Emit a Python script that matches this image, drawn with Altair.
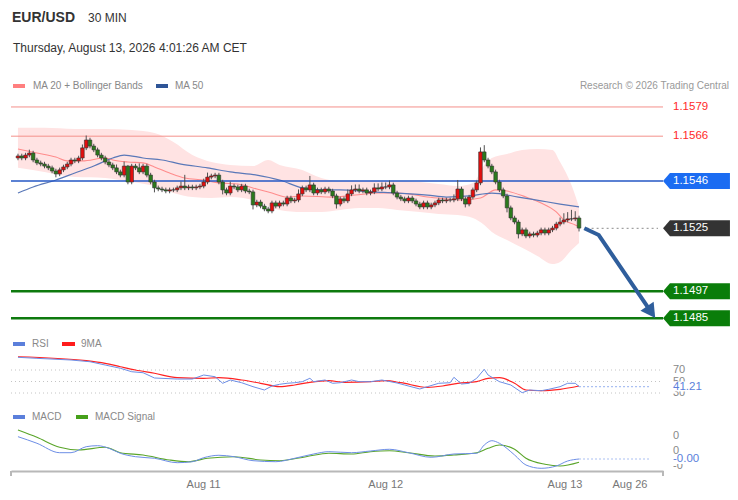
import altair as alt
import pandas as pd

FONT = "Liberation Sans"

# ---------------- data ----------------
# 30-min candles, index 0..148 (close prices)
candle_close = [
    1.15572, 1.15563, 1.15576, 1.15585, 1.15554, 1.15541, 1.15536, 1.15527, 1.15519, 1.15505,
    1.15492, 1.15510, 1.15523, 1.15536, 1.15554, 1.15550, 1.15563, 1.15608, 1.15643, 1.15616,
    1.15599, 1.15576, 1.15563, 1.15545, 1.15532, 1.15519, 1.15501, 1.15487, 1.15527, 1.15456,
    1.15527, 1.15519, 1.15501, 1.15527, 1.15487, 1.15456, 1.15430, 1.15425, 1.15421, 1.15416,
    1.15421, 1.15421, 1.15430, 1.15438, 1.15430, 1.15434, 1.15430, 1.15434, 1.15438, 1.15456,
    1.15478, 1.15483, 1.15487, 1.15456, 1.15421, 1.15407, 1.15438, 1.15434, 1.15421, 1.15438,
    1.15416, 1.15412, 1.15354, 1.15367, 1.15349, 1.15336, 1.15327, 1.15363, 1.15349, 1.15363,
    1.15358, 1.15385, 1.15372, 1.15376, 1.15403, 1.15430, 1.15421, 1.15443, 1.15407, 1.15421,
    1.15412, 1.15425, 1.15416, 1.15394, 1.15358, 1.15381, 1.15372, 1.15403, 1.15421, 1.15425,
    1.15416, 1.15421, 1.15407, 1.15412, 1.15430, 1.15425, 1.15434, 1.15434, 1.15443, 1.15407,
    1.15389, 1.15381, 1.15372, 1.15385, 1.15372, 1.15358, 1.15345, 1.15363, 1.15345, 1.15354,
    1.15363, 1.15376, 1.15372, 1.15376, 1.15376, 1.15381, 1.15425, 1.15381, 1.15358, 1.15389,
    1.15421, 1.15452, 1.15590, 1.15554, 1.15527, 1.15501, 1.15456, 1.15421, 1.15394, 1.15341,
    1.15296, 1.15278, 1.15225, 1.15243, 1.15216, 1.15225, 1.15220, 1.15229, 1.15243, 1.15229,
    1.15243, 1.15251, 1.15269, 1.15278, 1.15287, 1.15292, 1.15292, 1.15296, 1.15251,
]
first_open = 1.15563
# wick lengths beyond the body, in pips
wick_up_pips = [
    1, 1, 1, 1.5, 1, 1, 1, 1, 1, 1,
    1, 1, 1, 1, 1, 1, 1, 1.5, 2, 1,
    1, 1, 1, 1, 1, 1, 1.5, 1, 2, 0.5,
    1, 1, 2, 1, 1, 1, 1, 1, 1, 1,
    1, 1, 1, 2, 5, 1, 1, 1, 1, 1.5,
    2, 1, 1, 1, 1, 1, 2, 1, 1, 1,
    1, 1, 1, 1, 1, 1, 1, 1, 1, 1,
    1, 1, 1, 1, 2, 1, 1, 4, 1, 1,
    1, 1, 1, 1, 1, 1, 1, 2, 2, 2,
    2, 1, 1, 1, 2, 2, 2, 2, 2, 1,
    1, 1, 1, 1, 1, 1, 1, 1, 1, 1,
    1, 1, 1, 1, 1, 2, 4, 1, 1, 1,
    1, 1, 2, 3, 1, 1, 1, 1, 1, 1,
    1, 1, 1, 1, 1, 1, 1, 1, 1, 1,
    1, 1, 1, 2, 3, 3, 4, 3, 1,
]
wick_dn_pips = [
    1, 1, 1, 1, 1, 1, 1, 1, 1, 1,
    1.5, 1, 1, 1, 1, 1, 1, 1, 1, 1,
    1, 1, 1, 1, 1, 1, 1, 1, 1, 1,
    1, 1, 1, 1, 1, 1, 2, 1, 1, 1,
    1, 1, 1, 1, 1, 1, 1, 1, 1, 1,
    1, 1, 1, 1, 2, 1, 1, 1, 1, 1,
    1, 1, 2, 1, 1, 1, 1, 1, 1, 1,
    1, 1, 1, 1, 1, 1, 1, 1, 1, 1,
    1, 1, 1, 1, 2, 1, 1, 1, 1, 1,
    1, 1, 1, 1, 1, 1, 1, 1, 1, 1,
    1, 1, 1, 1, 1, 1, 1, 1, 1, 1,
    1, 1, 1, 1, 1, 1, 1, 1, 1.5, 1,
    1, 1, 1, 1, 1, 1, 1, 1, 1, 2,
    1, 1, 2, 1, 1, 1, 1, 1, 1, 1,
    1, 1, 1, 1, 1, 1, 1, 1, 1.5,
]

ma20_idx = [0, 5, 10, 13, 17, 23, 25, 29, 33, 36, 40, 44, 49, 53, 58, 63, 67, 71, 75, 83,
            89, 95, 100, 103, 108, 113, 117, 122, 126, 129, 134, 138, 142, 144, 147, 148]
ma20_val = [1.15603, 1.15585, 1.15567, 1.15550, 1.15550, 1.15563, 1.15554, 1.15545, 1.15541, 1.15523,
            1.15496, 1.15474, 1.15465, 1.15452, 1.15447, 1.15425, 1.15407, 1.15389, 1.15394, 1.15389,
            1.15398, 1.15407, 1.15407, 1.15403, 1.15389, 1.15381, 1.15376, 1.15385, 1.15421, 1.15416,
            1.15389, 1.15363, 1.15323, 1.15287, 1.15265, 1.15256]

ma50_idx = [0, 4, 10, 15, 20, 25, 28, 33, 38, 43, 50, 56, 63, 69, 75, 80, 85, 93, 100, 108,
            113, 119, 125, 132, 138, 143, 148]
ma50_val = [1.15407, 1.15434, 1.15465, 1.15496, 1.15527, 1.15563, 1.15576, 1.15563, 1.15554, 1.15536,
            1.15519, 1.15501, 1.15487, 1.15465, 1.15430, 1.15421, 1.15421, 1.15412, 1.15407, 1.15398,
            1.15389, 1.15394, 1.15407, 1.15389, 1.15372, 1.15358, 1.15345]

bb_idx = [0, 7, 15, 23, 30, 36, 41, 46, 51, 56, 62, 66, 69, 75, 80, 85, 90, 95, 100, 106,
          111, 116, 120, 123, 125, 129, 133, 137, 141, 143, 146, 148]
bb_upper = [1.15697, 1.15697, 1.15692, 1.15692, 1.15688, 1.15674, 1.15634, 1.15576, 1.15545, 1.15532,
            1.15527, 1.15554, 1.15532, 1.15510, 1.15474, 1.15461, 1.15461, 1.15461, 1.15461, 1.15456,
            1.15447, 1.15438, 1.15452, 1.15532, 1.15563, 1.15581, 1.15599, 1.15603, 1.15599, 1.15545,
            1.15443, 1.15345]
bb_lower = [1.15519, 1.15501, 1.15478, 1.15474, 1.15456, 1.15438, 1.15407, 1.15389, 1.15385, 1.15389,
            1.15376, 1.15349, 1.15332, 1.15323, 1.15323, 1.15332, 1.15340, 1.15340, 1.15332, 1.15323,
            1.15314, 1.15309, 1.15296, 1.15265, 1.15234, 1.15198, 1.15163, 1.15127, 1.15091, 1.15100,
            1.15154, 1.15185]

rsi_idx = [0, 5, 14, 19, 23, 27, 30, 33, 36, 42, 46, 49, 52, 54, 56, 59, 62, 65, 67, 69,
           71, 73, 75, 77, 78, 81, 83, 85, 88, 90, 93, 96, 100, 102, 106, 108, 111, 114, 115, 117,
           119, 121, 123, 124, 127, 130, 133, 135, 138, 140, 143, 145, 147, 148]
rsi_val = [92.1, 90.3, 87.4, 84.4, 78.7, 73.0, 67.0, 65.3, 56.1, 54.3,
           54.3, 61.3, 58.3, 46.9, 52.6, 47.9, 41.0, 35.2, 42.2, 45.1,
           46.9, 47.9, 49.7, 55.6, 49.7, 52.6, 46.9, 47.9, 52.6, 49.7,
           49.7, 52.6, 47.4, 43.9, 37.0, 41.0, 46.9, 47.9, 57.3, 45.6,
           46.9, 55.6, 71.2, 61.3, 49.7, 43.9, 30.5, 35.2, 34.0, 36.4,
           41.0, 46.9, 46.9, 41.21]
rsi9_idx = [0, 18, 23, 27, 31, 36, 42, 49, 53, 59, 64, 69, 73, 77, 82, 86, 93, 97, 101, 108,
            112, 116, 121, 124, 127, 131, 134, 138, 143, 148]
rsi9_val = [93.1, 86.2, 81.6, 75.7, 70.0, 64.3, 56.6, 55.6, 56.6, 52.6,
            46.9, 41.0, 43.9, 48.6, 51.4, 48.6, 49.7, 51.4, 47.9, 39.9,
            42.2, 46.9, 49.7, 55.6, 56.6, 46.9, 35.2, 34.0, 36.4, 42.2]

macd_idx = [0, 5, 11, 14, 18, 21, 24, 27, 31, 36, 42, 46, 49, 53, 57, 62, 68, 73, 78, 82,
            88, 93, 98, 103, 109, 115, 121, 123, 125, 127, 131, 134, 138, 142, 145, 148]
macd_val = [0.000477, 0.000257, -0.000057, -0.000057, 0.000143, 0.000177, 0.000090, -0.000077, -0.000190, -0.000243,
            -0.000390, -0.000357, -0.000223, -0.000143, -0.000190, -0.000323, -0.000357, -0.000243, -0.000100, -0.000023,
            -0.000057, 0.000000, 0.000057, -0.000057, -0.000210, -0.000100, -0.000077, 0.000200, 0.000343, 0.000257,
            -0.000133, -0.000467, -0.000577, -0.000500, -0.000333, -0.000267]
sig_idx = [0, 5, 11, 16, 23, 27, 33, 40, 45, 50, 57, 64, 69, 76, 82, 88, 93, 98, 103, 110,
           115, 121, 124, 127, 131, 134, 139, 143, 148]
sig_val = [0.000700, 0.000457, 0.000123, 0.000033, 0.000123, -0.000057, -0.000133, -0.000300, -0.000357, -0.000243,
           -0.000190, -0.000300, -0.000323, -0.000190, -0.000077, -0.000100, -0.000023, 0.000010, -0.000057, -0.000167,
           -0.000133, -0.000057, 0.000090, 0.000200, 0.000057, -0.000243, -0.000443, -0.000500, -0.000377]

# key levels
res_levels = [1.1579, 1.1566]
pivot_level = 1.1546
last_price = 1.1525
sup_levels = [1.1497, 1.1485]

# forecast arrow (bar index, price)
arrow_idx = [149.4, 153.2, 166.9]
arrow_price = [1.1525, 1.1522, 1.1488]

tick_pos = [48.83, 96.88, 144.16, 161.3]
tick_lbl = ["Aug 11", "Aug 12", "Aug 13", "Aug 26"]

rsi_guides = [70, 50, 30]
rsi_last_label = "41.21"
macd_ticks = [0.0005, 0.0, -0.0005]
macd_tick_lbl = ["0", "0", "-0"]
macd_last_label = "-0.00"

# ---------------- layout / scales ----------------
W, H = 652, 371
LBL_X = 662      # left edge of right-hand value labels
TAG_X = 685.5    # centre of the tag boxes
xs = alt.Scale(domain=[-0.52, 168.83], nice=False, zero=False)
PRICE = alt.Scale(domain=[1.14170, 1.15821], nice=False, zero=False)
RSI = alt.Scale(domain=[-105.65, 539.6], nice=False, zero=False)
MACD = alt.Scale(domain=[-0.000667, 0.0117], nice=False, zero=False)

label_expr = " : ".join(
    [f"datum.value < {(tick_pos[i] + tick_pos[i + 1]) / 2:.2f} ? '{tick_lbl[i]}'" for i in range(len(tick_pos) - 1)]
) + f" : '{tick_lbl[-1]}'"
xaxis = alt.Axis(values=tick_pos, labelExpr=label_expr, title=None, grid=False, ticks=False,
                 domainColor="#b8b8b8", domainWidth=2, labelColor="#777777", labelFontSize=11,
                 labelFont=FONT, labelPadding=7, labelFlush=False, labelOverlap=False)


def X(f):
    return alt.X(f, type="quantitative", scale=xs, axis=xaxis)


def Y(f, sc):
    return alt.Y(f, type="quantitative", scale=sc, axis=None)


# ---------------- tables ----------------
n = len(candle_close)
opens = [first_open] + candle_close[:-1]
cdf = pd.DataFrame({"idx": list(range(n)), "open": opens, "close": candle_close})
cdf["high"] = [max(o, c) + w * 1e-4 for o, c, w in zip(opens, candle_close, wick_up_pips)]
cdf["low"] = [min(o, c) - w * 1e-4 for o, c, w in zip(opens, candle_close, wick_dn_pips)]
cdf["dir"] = ["up" if c > o else "down" for o, c in zip(opens, candle_close)]

ma20 = pd.DataFrame({"idx": ma20_idx, "v": ma20_val})
ma50 = pd.DataFrame({"idx": ma50_idx, "v": ma50_val})
bb = pd.DataFrame({"idx": bb_idx, "up": bb_upper, "lo": bb_lower})
rsi = pd.DataFrame({"idx": rsi_idx, "v": rsi_val})
rsi9 = pd.DataFrame({"idx": rsi9_idx, "v": rsi9_val})
macd = pd.DataFrame({"idx": macd_idx, "v": macd_val})
sig = pd.DataFrame({"idx": sig_idx, "v": sig_val})
arrow = pd.DataFrame({"idx": arrow_idx, "p": arrow_price, "o": list(range(len(arrow_idx)))})
dummy = pd.DataFrame({"k": [0]})

layers = []

# Bollinger band + moving averages
layers.append(alt.Chart(bb).mark_area(color="#ffe3e3", opacity=1, interpolate="monotone")
              .encode(x=X("idx"), y=Y("up", PRICE), y2=alt.Y2("lo")))
layers.append(alt.Chart(ma20).mark_line(color="#ff8c8c", strokeWidth=1.1, interpolate="monotone")
              .encode(x=X("idx"), y=Y("v", PRICE)))
layers.append(alt.Chart(ma50).mark_line(color="#5a78b8", strokeWidth=1.2, interpolate="monotone")
              .encode(x=X("idx"), y=Y("v", PRICE)))


# horizontal levels
def hline(value, color, width):
    return (alt.Chart(pd.DataFrame({"p": [value]}))
            .mark_rule(color=color, strokeWidth=width)
            .encode(x=alt.value(0), x2=alt.value(W), y=Y("p", PRICE)))


for lv in res_levels:
    layers.append(hline(lv, "#f4908a", 1))
layers.append(hline(pivot_level, "#2457c5", 1.5))
for lv in sup_levels:
    layers.append(hline(lv, "#0e7a0e", 2.5))

# candles
layers.append(alt.Chart(cdf).mark_rule(color="#505050", strokeWidth=1)
              .encode(x=X("idx"), y=Y("low", PRICE), y2=alt.Y2("high")))
for d, col in [("up", "#e30e0e"), ("down", "#2b7a1c")]:
    layers.append(alt.Chart(cdf).transform_filter(alt.datum.dir == d)
                  .mark_bar(size=3.6, color=col, stroke="#333333", strokeWidth=0.6)
                  .encode(x=X("idx"), y=Y("open", PRICE), y2=alt.Y2("close")))

# last price dotted guide
layers.append(alt.Chart(pd.DataFrame({"a": [150.0], "b": [168.83], "p": [last_price]}))
              .mark_rule(color="#8a8a8a", strokeWidth=1, strokeDash=[2, 3])
              .encode(x=X("a"), x2=alt.X2("b"), y=Y("p", PRICE)))

# forecast arrow
layers.append(alt.Chart(arrow).mark_line(color="#2f5e9c", strokeWidth=4)
              .encode(x=X("idx"), y=Y("p", PRICE), order="o:Q"))
layers.append(alt.Chart(arrow.iloc[[-1]]).mark_point(
    shape="M -1 -0.8 L 1 -0.8 L 0 1 Z", size=256, filled=True, color="#2f5e9c",
    opacity=1, strokeWidth=0, angle=325.4)
    .encode(x=X("idx"), y=Y("p", PRICE)))

# right side price labels
TAG = "M -2.09 0 L -1.66 -0.5 L 2.09 -0.5 L 2.09 0.5 L -1.66 0.5 Z"


def price_text(value, color):
    return (alt.Chart(pd.DataFrame({"p": [value], "t": [f"{value:.4f}"]}))
            .mark_text(align="left", baseline="middle", fontSize=11.5, font=FONT, color=color)
            .encode(x=alt.value(LBL_X), y=Y("p", PRICE), text="t:N"))


def price_tag(value, fill):
    box = (alt.Chart(pd.DataFrame({"p": [value]}))
           .mark_point(shape=TAG, size=1024, filled=True, color=fill, opacity=1, strokeWidth=0)
           .encode(x=alt.value(TAG_X), y=Y("p", PRICE)))
    return [box, price_text(value, "white")]


for lv in res_levels:
    layers.append(price_text(lv, "#ff2a2a"))
layers += price_tag(pivot_level, "#1b6cf2")
layers += price_tag(last_price, "#333333")
for lv in sup_levels:
    layers += price_tag(lv, "#0a7d0a")

# ---------------- RSI panel ----------------
layers.append(alt.Chart(pd.DataFrame({"v": rsi_guides}))
              .mark_rule(color="#c4c4c4", strokeWidth=1, strokeDash=[1, 3])
              .encode(x=alt.value(0), x2=alt.value(W - 3), y=Y("v", RSI)))
layers.append(alt.Chart(rsi9).mark_line(color="#ff2222", strokeWidth=1.2, interpolate="monotone")
              .encode(x=X("idx"), y=Y("v", RSI)))
layers.append(alt.Chart(rsi).mark_line(color="#6d8ee6", strokeWidth=1)
              .encode(x=X("idx"), y=Y("v", RSI)))
layers.append(alt.Chart(pd.DataFrame({"a": [148.0], "b": [166.75], "v": [float(rsi_last_label)]}))
              .mark_rule(color="#aac0f2", strokeWidth=1.2, strokeDash=[2, 2])
              .encode(x=X("a"), x2=alt.X2("b"), y=Y("v", RSI)))
layers.append(alt.Chart(pd.DataFrame({"v": rsi_guides, "t": [str(g) for g in rsi_guides]}))
              .mark_text(align="left", baseline="middle", fontSize=11, font=FONT, color="#888888")
              .encode(x=alt.value(LBL_X), y=Y("v", RSI), text="t:N"))
COVER = "M -2.25 -0.5 L 2.25 -0.5 L 2.25 0.5 L -2.25 0.5 Z"
layers.append(alt.Chart(pd.DataFrame({"v": [float(rsi_last_label)]}))
              .mark_point(shape=COVER, size=400, filled=True, color="white", opacity=1, strokeWidth=0)
              .encode(x=alt.value(LBL_X + 22), y=Y("v", RSI)))
layers.append(alt.Chart(pd.DataFrame({"v": [float(rsi_last_label)], "t": [rsi_last_label]}))
              .mark_text(align="left", baseline="middle", fontSize=11.5, font=FONT, color="#5b7fdb")
              .encode(x=alt.value(LBL_X), y=Y("v", RSI), text="t:N"))

# ---------------- MACD panel ----------------
layers.append(alt.Chart(sig).mark_line(color="#5aa52a", strokeWidth=1.1, interpolate="monotone")
              .encode(x=X("idx"), y=Y("v", MACD)))
layers.append(alt.Chart(macd).mark_line(color="#6d8ee6", strokeWidth=1, interpolate="monotone")
              .encode(x=X("idx"), y=Y("v", MACD)))
layers.append(alt.Chart(pd.DataFrame({"a": [148.0], "b": [166.75], "v": [macd_val[-1]]}))
              .mark_rule(color="#aac0f2", strokeWidth=1.2, strokeDash=[2, 2])
              .encode(x=X("a"), x2=alt.X2("b"), y=Y("v", MACD)))
layers.append(alt.Chart(pd.DataFrame({"v": macd_ticks, "t": macd_tick_lbl}))
              .mark_text(align="left", baseline="middle", fontSize=11, font=FONT, color="#888888")
              .encode(x=alt.value(LBL_X), y=Y("v", MACD), text="t:N"))
layers.append(alt.Chart(pd.DataFrame({"v": [macd_val[-1]]}))
              .mark_point(shape=COVER, size=400, filled=True, color="white", opacity=1, strokeWidth=0)
              .encode(x=alt.value(LBL_X + 22), y=Y("v", MACD)))
layers.append(alt.Chart(pd.DataFrame({"v": [macd_val[-1]], "t": [macd_last_label]}))
              .mark_text(align="left", baseline="middle", fontSize=11.5, font=FONT, color="#5b7fdb")
              .encode(x=alt.value(LBL_X), y=Y("v", MACD), text="t:N"))

# x-axis end ticks
for xv in (0, W):
    layers.append(alt.Chart(dummy).mark_rule(color="#b8b8b8", strokeWidth=2)
                  .encode(x=alt.value(xv), y=alt.value(H), y2=alt.value(H + 5)))


# ---------------- header texts & legends ----------------
def txt(s, x, y, size=10, color="#888888", weight="normal", align="left"):
    return (alt.Chart(dummy).mark_text(text=s, fontSize=size, color=color, fontWeight=weight,
                                       align=align, baseline="middle", font=FONT)
            .encode(x=alt.value(x), y=alt.value(y)))


def swatch(x1, x2, y, color):
    return (alt.Chart(dummy).mark_rule(color=color, strokeWidth=4)
            .encode(x=alt.value(x1), x2=alt.value(x2), y=alt.value(y)))


layers += [
    txt("EUR/USD", 1, -82, 14, "#333333", "bold"),
    txt("30 MIN", 77, -82, 12, "#333333"),
    txt("Thursday, August 13, 2026 4:01:26 AM CET", 2, -52, 12, "#333333"),
    swatch(2, 14, -14, "#ff7f7f"),
    txt("MA 20 + Bollinger Bands", 22, -14),
    swatch(145, 157, -14, "#2f5597"),
    txt("MA 50", 164, -14),
    txt("Research \u00a9 2026 Trading Central", 718, -14, 10, "#999999", align="right"),
    swatch(2, 14, 244, "#5b7fdb"),
    txt("RSI", 21, 244),
    swatch(51, 64, 244, "#ff1c1c"),
    txt("9MA", 70, 244),
    swatch(2, 14, 317, "#5b7fdb"),
    txt("MACD", 21, 317),
    swatch(65, 77, 317, "#46a01a"),
    txt("MACD Signal", 84, 317),
]

chart = (alt.layer(*layers)
         .resolve_scale(y="independent")
         .properties(width=W, height=H,
                     autosize=alt.AutoSizeParams(type="none"),
                     padding={"left": 3, "top": 92, "right": 67, "bottom": 21},
                     background="white")
         .configure_view(stroke=None))

chart.save("out.html", embed_options={"renderer": "svg", "actions": False})
